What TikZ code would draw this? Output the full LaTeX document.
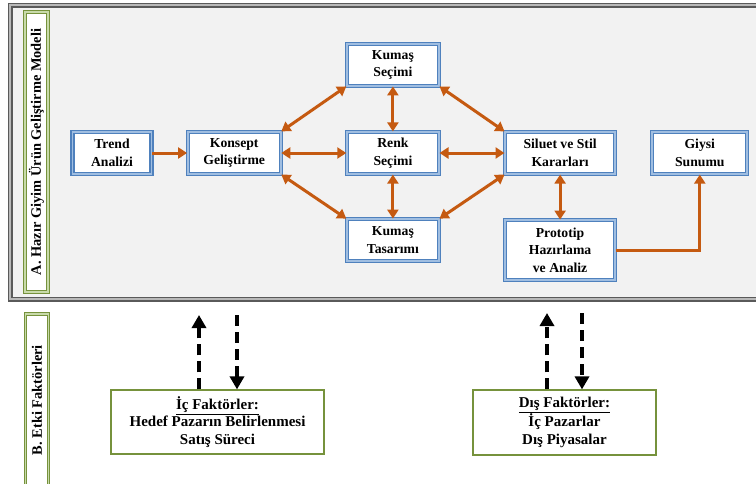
\documentclass[tikz,border=0pt]{standalone}
\usepackage{fontspec}
\setmainfont{Liberation Serif}
\usetikzlibrary{positioning,arrows.meta,shadows}

\definecolor{boxblue}{RGB}{79,129,189}
\definecolor{boxblueinner}{RGB}{160,190,225}
\definecolor{arroworange}{RGB}{197,90,17}
\definecolor{framegray}{RGB}{90,90,90}
\definecolor{framemid}{RGB}{185,185,185}
\definecolor{framefill}{RGB}{242,242,242}
\definecolor{labelgreen}{RGB}{118,146,60}
\definecolor{labelgreeninner}{RGB}{200,218,170}

\tikzset{
    stagebox/.style={draw=boxblue, line width=1.2pt, double=boxblueinner, double distance=1.8pt,
        fill=white, drop shadow={opacity=0.3, shadow xshift=1pt, shadow yshift=-1pt},
        align=center, font=\fontsize{13.7}{17.5}\selectfont\bfseries, minimum height=42pt, inner sep=2pt},
    factorbox/.style={draw=labelgreen, line width=1.2pt, fill=white,
        drop shadow={opacity=0.25, shadow xshift=1pt, shadow yshift=-1pt},
        align=center, font=\fontsize{15}{17.5}\selectfont\bfseries},
    sidelabel/.style={draw=labelgreen, line width=1pt, double=labelgreeninner, double distance=1.5pt,
        fill=white, rotate=90, font=\fontsize{14.4}{16}\selectfont\bfseries},
    flow/.style={draw=arroworange, line width=3pt, -{Triangle[length=9pt,width=11pt]}},
    twoway/.style={flow, {Triangle[length=9pt,width=11pt]}-{Triangle[length=9pt,width=11pt]}},
    influence/.style={draw=black, line width=4.5pt, dash pattern=on 11pt off 6pt,
        -{Triangle[length=13pt,width=14pt]}}
}

\begin{document}
\begin{tikzpicture}[x=1pt, y=1pt]
            \useasboundingbox (0,0) rectangle (756,-483);

            % model frame
            \draw[draw=framegray, line width=1.5pt, double=framemid, double distance=2pt, fill=framefill]
                (10,-5) rectangle (790,-299);
            \node (modellabel) [sidelabel, minimum width=280pt, minimum height=23pt] at (36.5,-152)
                {A. Hazır Giyim Ürün Geliştirme Modeli};
            \node (factorlabel) [sidelabel, minimum width=172pt, minimum height=23pt] at (37,-400)
                {B. Etki Faktörleri};

            % stages
            \node (trend) [stagebox, minimum width=79pt] at (112,-153) {Trend\\Analizi};
            \node (konsept) [stagebox, minimum width=93pt, right=35pt of trend] {Konsept\\Geliştirme};
            \node (renk) [stagebox, minimum width=92pt, right=65pt of konsept] {Renk\\Seçimi};
            \node (kumassecimi) [stagebox, minimum width=92pt, above=45pt of renk] {Kumaş\\Seçimi};
            \node (kumastasarimi) [stagebox, minimum width=92pt, below=44pt of renk] {Kumaş\\Tasarımı};
            \node (siluet) [stagebox, minimum width=110pt, right=65pt of renk] {Siluet ve Stil\\Kararları};
            \node (giysi) [stagebox, minimum width=95pt, right=36pt of siluet] {Giysi\\Sunumu};
            \node (prototip) [stagebox, minimum width=110pt, minimum height=60pt, below=45pt of siluet]
                {Prototip\\Hazırlama\\ve Analiz};

            \path
            (trend) edge[flow] (konsept)
            (konsept) edge[twoway] (renk)
            (konsept.north east) edge[twoway] (kumassecimi.south west)
            (konsept.south east) edge[twoway] (kumastasarimi.north west)
            (kumassecimi) edge[twoway] (renk)
            (renk) edge[twoway] (kumastasarimi)
            (kumassecimi.south east) edge[twoway] (siluet.north west)
            (renk) edge[twoway] (siluet)
            (kumastasarimi.north east) edge[twoway] (siluet.south west)
            (siluet) edge[twoway] (prototip);
            \draw[flow] (prototip.east) -| (giysi.south);

            % factors
            \node (icfaktor) [factorbox, minimum width=213pt, minimum height=64pt] at (217.5,-422)
                {\underline{İç Faktörler:}\\Hedef Pazarın Belirlenmesi\\Satış Süreci};
            \node (disfaktor) [factorbox, minimum width=183pt, minimum height=65pt] at (564.5,-422.5)
                {\underline{Dış Faktörler:}\\İç Pazarlar\\Dış Piyasalar};

            \coordinate (icup) at (199,-315);
            \coordinate (icdown) at (237,-315);
            \coordinate (disup) at (547,-313);
            \coordinate (disdown) at (582,-313);

            \draw[influence] (icfaktor.north -| icup) -- (icup);
            \draw[influence] (icdown) -- (icfaktor.north -| icdown);
            \draw[influence] (disfaktor.north -| disup) -- (disup);
            \draw[influence] (disdown) -- (disfaktor.north -| disdown);
\end{tikzpicture}
\end{document}
